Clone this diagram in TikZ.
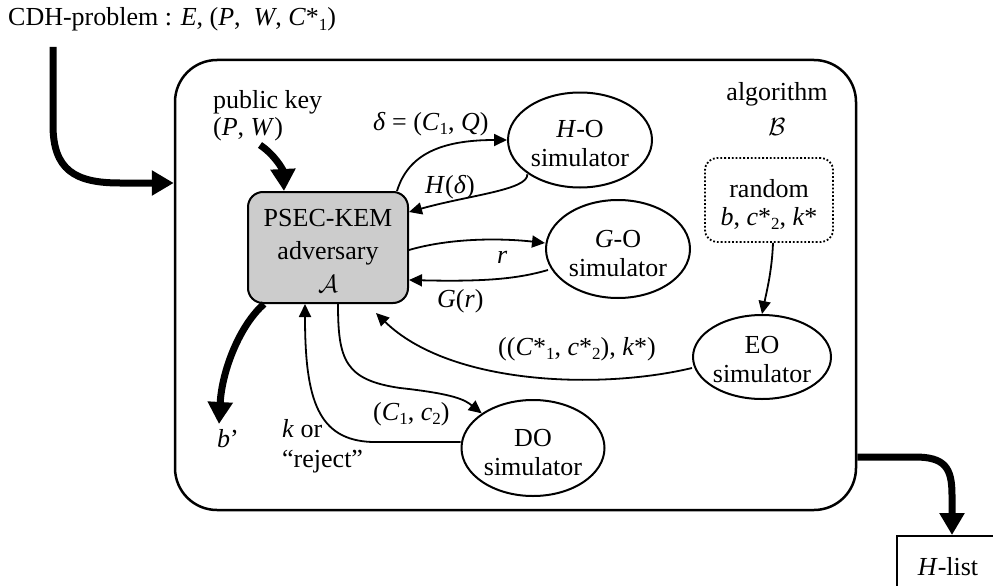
\documentclass[tikz,border=0pt]{standalone}
\usepackage{fontspec}
\setmainfont{Liberation Serif}
\usetikzlibrary{arrows.meta,shapes.geometric}
\newcommand{\sbx}[1]{\raisebox{-0.35ex}{\fontsize{17}{17}\selectfont #1}}
\begin{document}
\begin{tikzpicture}[x=1pt,y=-1pt,
  every node/.style={font=\fontsize{26}{29}\selectfont, inner sep=0pt},
  thinarrow/.style={line width=1.8pt,-{Triangle[length=13pt,width=12pt]}},
  fatarrow/.style={line width=7pt,-{Triangle[length=22pt,width=24pt]}},
  simshape/.style={ellipse, draw, line width=2pt},
  simtext/.style={align=center},
  lbl/.style={anchor=base west}]
\useasboundingbox (0,0) rectangle (993,586);

% outer algorithm box
\node[draw, line width=2.5pt, rounded corners=42pt, minimum width=681pt, minimum height=450pt] (bigbox) at (515.5,285) {};

% title
\node[lbl] (title) at (8,26) {CDH-problem : \textit{E}, (\textit{P}, \ \textit{W}, \textit{C}*\sbx{1})};

% adversary
\node[draw, line width=2pt, rounded corners=15pt, fill=black!20, minimum width=160pt, minimum height=111pt] (adv) at (328,247.5) {};
\node[align=center, font=\fontsize{26}{33}\selectfont] (advtext) at (328,251) {PSEC-KEM\\adversary\\$\mathcal{A}$};

% simulators
\node[simshape, minimum width=144pt, minimum height=95pt] (ho) at (580,140) {};
\node[simtext] (hotext) at (580,144) {\textit{H}-O\\simulator};
\node[simshape, minimum width=144pt, minimum height=98pt] (go) at (618,249) {};
\node[simtext] (gotext) at (618,254) {\textit{G}-O\\simulator};
\node[simshape, minimum width=138pt, minimum height=84pt] (eo) at (762,357) {};
\node[simtext] (eotext) at (762,360) {EO\\simulator};
\node[simshape, minimum width=143pt, minimum height=96pt] (do) at (533,448) {};
\node[simtext] (dotext) at (533,453) {DO\\simulator};

% random box
\node[draw, dotted, line width=1.8pt, rounded corners=12pt, minimum width=128pt, minimum height=84pt] (rnd) at (769,200) {};
\node[anchor=base] (rndtext1) at (769,197) {random};
\node[anchor=base] (rndtext2) at (769,225) {\textit{b}, \textit{c}*\sbx{2}, \textit{k}*};

% algorithm label
\node[anchor=base] (alg1) at (777,100) {algorithm};
\node[anchor=base] (alg2) at (777,135) {$\mathcal{B}$};

% public key
\node[lbl] (pk1) at (213,108) {public key};
\node[lbl] (pk2) at (213,135) {(\textit{P}, \textit{W})};

% H-list
\begin{scope}
\clip (0,0) rectangle (993,586);
\node[draw, line width=2pt, minimum width=102pt, minimum height=62pt] (hlist) at (948,567) {\textit{H}-list};
\end{scope}

% coordinates
\coordinate (cdhs) at (53,47);
\coordinate (cdhe) at (bigbox.west |- 0,183);
\coordinate (pks) at (260,145);
\coordinate (hls) at (bigbox.east |- 0,457);

% thick arrows
\draw[fatarrow] (cdhs) -- (53,125) .. controls (53,170) and (75,183) .. (120,183) -- (cdhe);
\draw[fatarrow] (pks) .. controls (275,155) and (283,170) .. (adv.north -| 284,0);
\draw[fatarrow] (adv.south west) ++(17,0) .. controls (240,325) and (222,370) .. (219,424);
\node[lbl] (bprime) at (217,447) {\textit{b}’};
\draw[fatarrow] (hls) -- (915,457) .. controls (945,457) and (952,468) .. (952,495) -- (hlist.north -| 952,0);

% thin arrows
\draw[thinarrow] (adv.north east) ++(-12,0) .. controls (408,155) and (440,140) .. (ho.west);
\node[lbl] (dlbl) at (373,130) {\textit{δ} = (\textit{C}\sbx{1}, \textit{Q})};

\draw[thinarrow] (ho.south west) ++(-1,0) .. controls (528,190) and (470,195) .. (adv.east |- 0,212);
\node[lbl] (hdlbl) at (425,193) {\textit{H}(\textit{δ})};

\draw[thinarrow] (adv.east |- 0,250) .. controls (450,238) and (500,238) .. (go.west |- 0,243);
\node[lbl] (rlbl) at (497,263) {\textit{r}};

\draw[thinarrow] (go.west |- 0,270) ++(3,0) .. controls (520,278) and (490,282) .. (adv.east |- 0,280);
\node[lbl] (grlbl) at (437,307) {\textit{G}(\textit{r})};

\draw[thinarrow] (rnd.south -| 773,0) .. controls (772,270) and (767,290) .. (eo.north);

\draw[thinarrow] (eo.west |- 0,368) .. controls (600,390) and (450,385) .. (376,313);
\node[lbl] (eolbl) at (498,355) {((\textit{C}*\sbx{1}, \textit{c}*\sbx{2}), \textit{k}*)};

\draw[thinarrow] (adv.south -| 338,0) .. controls (338,360) and (345,380) .. (400,388) .. controls (455,394) and (465,400) .. (do.north west);
\node[lbl] (dolbl) at (373,420) {(\textit{C}\sbx{1}, \textit{c}\sbx{2})};

\draw[thinarrow] (do.west |- 0,442) -- (372,442) .. controls (318,440) and (305,400) .. (adv.south -| 305,0);
\node[lbl] (kor1) at (282,437) {\textit{k} or};
\node[lbl] (kor2) at (282,467) {“reject”};
\end{tikzpicture}
\end{document}
